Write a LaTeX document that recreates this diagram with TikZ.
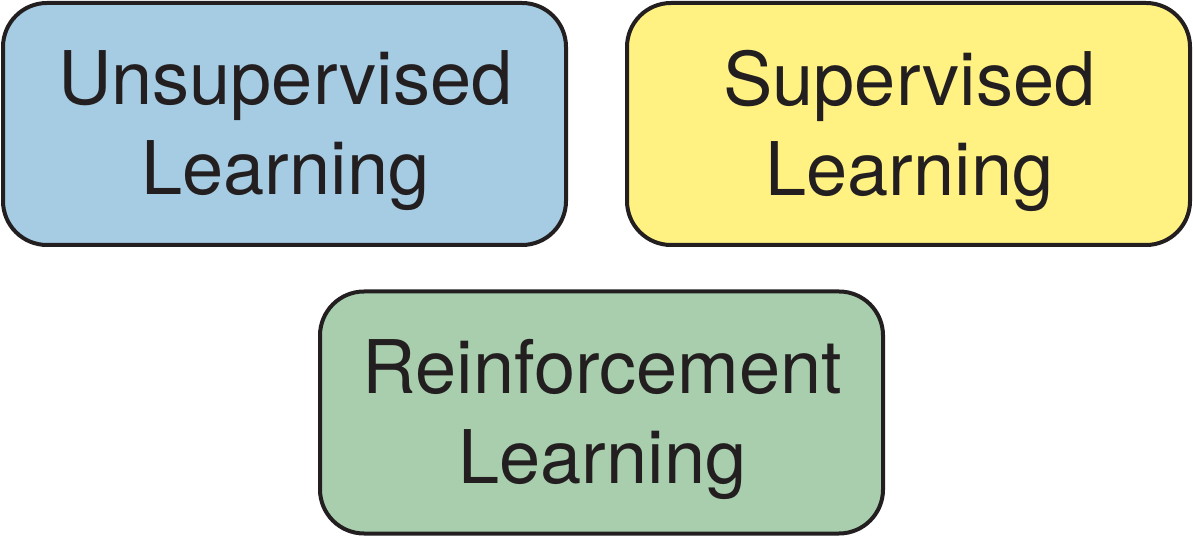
\documentclass[tikz,border=0pt]{standalone}
\usepackage{fontspec}
\setmainfont{TeX Gyre Heros}
\definecolor{txt}{HTML}{231F20}
\definecolor{cblue}{HTML}{A6CCE3}
\definecolor{cyellow}{HTML}{FFF282}
\definecolor{cgreen}{HTML}{A8CEAD}
\begin{document}
\begin{tikzpicture}[x=1pt,y=1pt,
  box/.style={draw=txt, line width=4pt, rounded corners=44pt, minimum width=563pt, minimum height=242pt, inner sep=0pt},
  lbl/.style={align=center, text=txt, font=\fontsize{74}{90}\selectfont, inner sep=0pt}]
\useasboundingbox (0,0) rectangle (1193,538);
\node[box, fill=cblue] (unsup) at (284.5,414) {};
\node[box, fill=cyellow] (sup) at (908.5,414) {};
\node[box, fill=cgreen] (reinf) at (601.5,125.5) {};
\node[lbl] (unsupt) at ([xshift=1pt,yshift=-7pt]unsup.center) {Unsupervised\\Learning};
\node[lbl] (supt) at ([xshift=1pt,yshift=-7pt]sup.center) {Supervised\\Learning};
\node[lbl] (reinft) at ([xshift=1pt,yshift=-7pt]reinf.center) {Reinforcement\\Learning};
\end{tikzpicture}
\end{document}
